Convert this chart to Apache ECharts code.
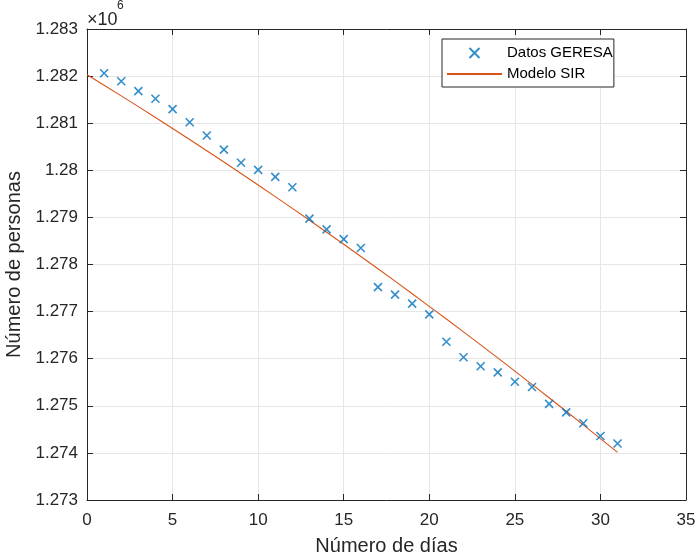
<!DOCTYPE html>
<html>
<head>
<meta charset="utf-8">
<script src="https://cdn.jsdelivr.net/npm/echarts@6/dist/echarts.min.js"></script>
<style>
  html, body { margin: 0; padding: 0; background: #fff; }
  #chart { width: 700px; height: 559px; }
</style>
</head>
<body>
<div id="chart"></div>
<script>
// Días observados y población (personas) reportada por GERESA
const dias = [1, 2, 3, 4, 5, 6, 7, 8, 9, 10, 11, 12, 13, 14, 15, 16,
              17, 18, 19, 20, 21, 22, 23, 24, 25, 26, 27, 28, 29, 30, 31];
const datosGeresa = [1282060, 1281890, 1281680, 1281520, 1281300, 1281020, 1280740, 1280440,
                     1280160, 1280010, 1279860, 1279640, 1278975, 1278745, 1278540, 1278350,
                     1277520, 1277360, 1277170, 1276940, 1276360, 1276030, 1275840, 1275710,
                     1275510, 1275400, 1275040, 1274860, 1274630, 1274360, 1274200];

// Curva del modelo SIR evaluada en días 0..31
const diasModelo = [0, 1, 2, 3, 4, 5, 6, 7, 8, 9, 10, 11, 12, 13, 14, 15,
                    16, 17, 18, 19, 20, 21, 22, 23, 24, 25, 26, 27, 28, 29, 30, 31];
const modeloSIR = [1282030, 1281806, 1281580, 1281352, 1281121, 1280888, 1280653, 1280415,
                   1280175, 1279932, 1279688, 1279441, 1279191, 1278940, 1278686, 1278429,
                   1278171, 1277910, 1277646, 1277380, 1277112, 1276842, 1276569, 1276294,
                   1276017, 1275737, 1275455, 1275171, 1274884, 1274595, 1274304, 1274010];

// Ejes
const xMin = 0, xMax = 35, xStep = 5;
const yMin = 1273000, yMax = 1283000, yStep = 1000;

const FONT = '"Liberation Sans", Arial, Helvetica, sans-serif';
const AXIS_COLOR = '#262626';
const GRID_COLOR = '#e6e6e6';
const BLUE = '#0072BD';
const ORANGE = '#D95319';

const fmtY = v => (v / 1e6).toFixed(3).replace(/0+$/, '').replace(/\.$/, '');

const chart = echarts.init(document.getElementById('chart'), null, { renderer: 'canvas' });

const tickStyle = { show: true, inside: true, length: 6, lineStyle: { color: AXIS_COLOR, width: 1 } };

chart.setOption({
  animation: false,
  backgroundColor: '#ffffff',
  textStyle: { fontFamily: FONT },
  grid: { left: 87, right: 14, top: 29, bottom: 59, containLabel: false, outerBoundsMode: 'none' },
  xAxis: [{
    type: 'value', min: xMin, max: xMax, interval: xStep,
    name: 'Número de días', nameLocation: 'middle', nameGap: 36,
    nameTextStyle: { fontSize: 20, color: AXIS_COLOR, fontFamily: FONT },
    axisLine: { show: true, onZero: false, lineStyle: { color: AXIS_COLOR, width: 1 } },
    axisTick: tickStyle,
    axisLabel: { fontSize: 17, color: AXIS_COLOR, margin: 12, fontFamily: FONT },
    splitLine: { show: true, lineStyle: { color: GRID_COLOR, width: 1 } }
  }, {
    type: 'value', position: 'top', min: xMin, max: xMax, interval: xStep,
    axisLine: { show: true, onZero: false, lineStyle: { color: AXIS_COLOR, width: 1 } },
    axisTick: tickStyle, axisLabel: { show: false }, splitLine: { show: false }
  }],
  yAxis: [{
    type: 'value', min: yMin, max: yMax, interval: yStep,
    name: 'Número de personas', nameLocation: 'middle', nameGap: 61, nameRotate: 90,
    nameTextStyle: { fontSize: 20, color: AXIS_COLOR, fontFamily: FONT },
    axisLine: { show: true, onZero: false, lineStyle: { color: AXIS_COLOR, width: 1 } },
    axisTick: tickStyle,
    axisLabel: { fontSize: 17, color: AXIS_COLOR, margin: 9, fontFamily: FONT, formatter: fmtY },
    splitLine: { show: true, lineStyle: { color: GRID_COLOR, width: 1 } }
  }, {
    type: 'value', position: 'right', min: yMin, max: yMax, interval: yStep,
    axisLine: { show: true, onZero: false, lineStyle: { color: AXIS_COLOR, width: 1 } },
    axisTick: tickStyle, axisLabel: { show: false }, splitLine: { show: false }
  }],
  legend: {
    orient: 'vertical', left: 442, top: 39,
    padding: [5, 1, 4, 4], itemGap: 3,
    itemWidth: 55, itemHeight: 10,
    backgroundColor: '#ffffff', borderColor: AXIS_COLOR, borderWidth: 1,
    textStyle: { fontSize: 15, color: '#000', fontFamily: FONT, lineHeight: 18 },
    data: [
      { name: 'Datos GERESA' },
      { name: 'Modelo SIR', itemStyle: { opacity: 0 } }
    ]
  },
  graphic: [
    { type: 'text', left: 87, top: 11,
      style: { text: '×10', fontSize: 18, fontFamily: FONT, fill: AXIS_COLOR } },
    { type: 'text', left: 117, top: 0,
      style: { text: '6', fontSize: 12, fontFamily: FONT, fill: AXIS_COLOR } }
  ],
  series: [{
    name: 'Datos GERESA',
    type: 'scatter',
    data: dias.map((d, i) => [d, datosGeresa[i]]),
    symbol: 'path://M0,0L10,10M10,0L0,10',
    symbolKeepAspect: true,
    symbolSize: 8,
    itemStyle: { color: 'rgba(0,0,0,0)', borderColor: BLUE, borderWidth: 1.6 },
    z: 3
  }, {
    name: 'Modelo SIR',
    type: 'line',
    data: diasModelo.map((d, i) => [d, modeloSIR[i]]),
    symbol: 'none',
    showSymbol: false,
    smooth: false,
    lineStyle: { color: ORANGE, width: 1.1 },
    itemStyle: { color: ORANGE },
    z: 2
  }]
});
</script>
</body>
</html>
